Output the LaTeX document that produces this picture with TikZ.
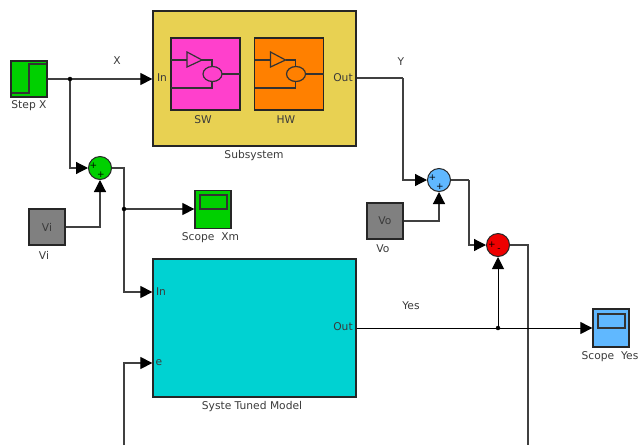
\documentclass[tikz,border=0pt]{standalone}
\usepackage{fontspec}
\setmainfont{DejaVu Sans}
\usepackage{xcolor}
\usetikzlibrary{arrows.meta}

\definecolor{subyellow}{HTML}{E8D152}
\definecolor{swpink}{HTML}{FF40CC}
\definecolor{hworange}{HTML}{FF8000}
\definecolor{stepgreen}{HTML}{00D000}
\definecolor{modelcyan}{HTML}{00D2D2}
\definecolor{sumblue}{HTML}{60B8FF}
\definecolor{sumred}{HTML}{EE0000}
\definecolor{blockgray}{HTML}{808080}
\definecolor{labelgray}{HTML}{3A3A3A}
\definecolor{wiregray}{HTML}{404040}

\tikzset{
  block/.style={draw=black!85,line width=1.3pt,inner sep=0pt,font=\fontsize{10.7}{12}\selectfont,text=labelgray},
  sumnode/.style={circle,draw=black!85,line width=1pt,minimum size=23pt,inner sep=0pt},
  caption/.style={font=\fontsize{10.7}{12}\selectfont,text=labelgray,inner sep=0pt},
  wire/.style={draw=wiregray,line width=1.2pt},
  sig/.style={wire,-{Triangle[length=12pt,width=12pt,color=black,fill=black]}},
  icon/.style={line width=1.2pt,draw=black!80},
  dotnode/.style={circle,fill=black,draw=black,minimum size=4pt,inner sep=0pt},
  signmark/.style={font=\fontsize{9}{9}\selectfont,inner sep=0pt,text=black}
}

\begin{document}
\begin{tikzpicture}[x=1pt,y=-1pt]
  \useasboundingbox (0,0) rectangle (642,445);

  % Blocks
  \node[block,fill=stepgreen,minimum width=36pt,minimum height=36pt] (stepx) at (29,79) {};
  \node[block,fill=subyellow,minimum width=203pt,minimum height=135pt] (subsys) at (254.5,78.5) {};
  \node[block,fill=swpink,minimum width=69pt,minimum height=72pt] (swblock) at (205.5,74) {};
  \node[block,fill=hworange,minimum width=69pt,minimum height=72pt] (hwblock) at (289,74) {};
  \node[block,fill=modelcyan,minimum width=203pt,minimum height=138pt] (model) at (254.5,328) {};
  \node[block,fill=blockgray,minimum width=36pt,minimum height=36pt] (vi) at (47,227) {Vi};
  \node[block,fill=blockgray,minimum width=36pt,minimum height=36pt] (vo) at (385,221) {Vo};
  \node[block,fill=stepgreen,minimum width=36pt,minimum height=38pt] (scopexm) at (213,209.5) {};
  \node[block,fill=sumblue,minimum width=36pt,minimum height=38pt] (scopeyes) at (611,328) {};

  % Sums
  \node[sumnode,fill=stepgreen] (sumx) at (100,168) {};
  \node[sumnode,fill=sumblue] (sumy) at (439,180) {};
  \node[sumnode,fill=sumred] (sumerr) at (498,245) {};
  \foreach \name/\px/\py/\val in {a/93.5/165.5/+,b/101/175/+,c/432.5/177.5/+,d/440/187/+,e/492/245/+,f/499/250.5/-} {
    \node[signmark] (sign\name) at (\px,\py) {\val};
  }

  % Step and scope insides
  \draw[icon] (12,93) -- (29,93) -- (29,64) -- (46,64);
  \draw[icon] (200,195) rectangle (227,209);
  \draw[icon] (598,314) rectangle (625,328);

  % SW and HW insides
  \foreach \dx in {0,83.5} {
    \draw[icon] (171+\dx,60) -- (187+\dx,60);
    \draw[icon] (187+\dx,52) -- (187+\dx,67) -- (202+\dx,60) -- cycle;
    \draw[icon] (202+\dx,60) -- (212+\dx,60) -- (212+\dx,66);
    \draw[icon] (212.5+\dx,74) ellipse (9.5pt and 7.5pt);
    \draw[icon] (222+\dx,74) -- (240+\dx,74);
    \draw[icon] (171+\dx,88) -- (212+\dx,88) -- (212+\dx,82);
  }

  % Junctions and free ends
  \coordinate (ebottom) at (124,445);
  \coordinate (errbottom) at (528,445);
  \coordinate (ycorner) at (403,78);
  \coordinate (sumycorner) at (469,180);
  \coordinate (splitx) at (70,79);
  \coordinate (splitxm) at (124,209);
  \coordinate (splityes) at (498,328);

  % Signals
  \draw[wire] (stepx.east) -- (splitx);
  \draw[sig] (splitx) -- (subsys.west |- splitx);
  \draw[sig] (splitx) |- (sumx.west);
  \draw[sig] (vi.east) -| (sumx.south);
  \draw[wire] (sumx.east) -| (splitxm);
  \draw[sig] (splitxm) -- (scopexm.west |- splitxm);
  \draw[sig] (splitxm) |- (model.west |- 0,292);
  \draw[sig] (ebottom) |- (model.west |- 0,363);
  \draw[wire] (subsys.east |- ycorner) -- (ycorner);
  \draw[sig] (ycorner) |- (sumy.west);
  \draw[sig] (vo.east) -| (sumy.south);
  \draw[wire] (sumy.east) -- (sumycorner);
  \draw[sig] (sumycorner) |- (sumerr.west);
  \draw[wire] (sumerr.east) -| (errbottom);
  \draw[wire,draw=black,line width=1pt] (model.east) -- (splityes);
  \draw[sig,draw=black,line width=1pt] (splityes) -- (scopeyes.west);
  \draw[sig,draw=black,line width=1pt] (splityes) -- (sumerr.south);
  \foreach \at in {splitx,splitxm,splityes} {
    \node[dotnode] (dot\at) at (\at) {};
  }

  % Labels
  \node[caption] (stepxlabel) at (29,106) {Step X};
  \node[caption] (xlabel) at (117,61) {X};
  \node[caption] (ylabel) at (401,62) {Y};
  \node[caption] (yeslabel) at (411,306) {Yes};
  \node[caption] (subsyslabel) at (254,156) {Subsystem};
  \node[caption] (swlabel) at (203,120) {SW};
  \node[caption] (hwlabel) at (286,120) {HW};
  \node[caption] (subin) at (162,78) {In};
  \node[caption] (subout) at (343,78) {Out};
  \node[caption] (vilabel) at (44,255) {Vi};
  \node[caption] (volabel) at (383,249) {Vo};
  \node[caption] (scopexmlabel) at (210.5,238) {Scope\ \ Xm};
  \node[caption] (scopeyeslabel) at (610,357) {Scope\ \ Yes};
  \node[caption] (modelin) at (161,292) {In};
  \node[caption] (modele) at (159,363) {e};
  \node[caption] (modelout) at (343,327) {Out};
  \node[caption] (modellabel) at (252,407) {Syste Tuned Model};
\end{tikzpicture}
\end{document}
